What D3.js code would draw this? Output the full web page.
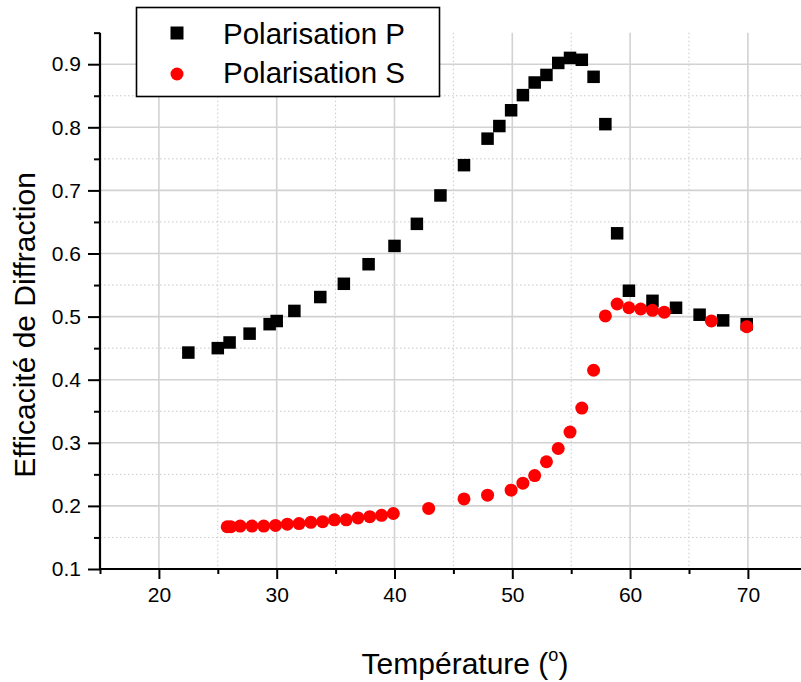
<!DOCTYPE html>
<html>
<head>
<meta charset="utf-8">
<script src="https://cdn.jsdelivr.net/npm/d3@7"></script>
<style>
  html, body { margin: 0; padding: 0; background: #fff; }
  svg { display: block; font-family: "Liberation Sans", Arial, sans-serif; }
</style>
</head>
<body>
<svg id="chart" width="801" height="682"></svg>
<script>
// ---- data ----
const seriesNames = ["Polarisation P", "Polarisation S"];
const pTemp = [22.5, 25, 26, 27.7, 29.4, 30, 31.5, 33.7, 35.7, 37.8, 40, 41.9, 43.9, 45.9, 47.9, 48.9, 49.9, 50.9, 51.9, 52.9, 53.9, 54.9, 55.9, 56.9, 57.9, 58.9, 59.9, 61.9, 63.9, 65.9, 67.9, 69.9];
const pEff  = [0.443, 0.450, 0.459, 0.473, 0.488, 0.493, 0.509, 0.531, 0.552, 0.583, 0.612, 0.647, 0.692, 0.740, 0.782, 0.802, 0.827, 0.851, 0.871, 0.883, 0.902, 0.910, 0.907, 0.880, 0.805, 0.632, 0.541, 0.525, 0.514, 0.503, 0.494, 0.488];
const sTemp = [25.8, 26.1, 26.9, 27.9, 28.9, 29.9, 30.9, 31.9, 32.9, 33.9, 34.9, 35.9, 36.9, 37.9, 38.9, 39.9, 42.9, 45.9, 47.9, 49.9, 50.9, 51.9, 52.9, 53.9, 54.9, 55.9, 56.9, 57.9, 58.9, 59.9, 60.9, 61.9, 62.9, 66.9, 69.9];
const sEff  = [0.167, 0.167, 0.168, 0.168, 0.168, 0.169, 0.171, 0.172, 0.174, 0.175, 0.178, 0.178, 0.181, 0.183, 0.185, 0.188, 0.196, 0.211, 0.217, 0.225, 0.236, 0.248, 0.270, 0.291, 0.317, 0.355, 0.415, 0.501, 0.520, 0.514, 0.512, 0.510, 0.507, 0.493, 0.484];
const xMajorTicks = [20, 30, 40, 50, 60, 70];
const xMinorTicks = [15, 25, 35, 45, 55, 65, 75];
const yMajorTicks = [0.1, 0.2, 0.3, 0.4, 0.5, 0.6, 0.7, 0.8, 0.9];
const yMinorTicks = [0.15, 0.25, 0.35, 0.45, 0.55, 0.65, 0.75, 0.85, 0.95];
const xTitle = "Température (";
const yTitle = "Efficacité de Diffraction";

// ---- layout ----
const W = 801, H = 682;
const plotLeft = 100, plotBottom = 569;
const x = d3.scaleLinear().domain([15, 75]).range([plotLeft, plotLeft + 60 * 11.78]);
const y = d3.scaleLinear().domain([0.1, 0.95]).range([plotBottom, plotBottom - 0.85 * 631]);
const plotTop = y(0.95);

const svg = d3.select("#chart");

// grid
const grid = svg.append("g");
grid.selectAll(".hminor").data(yMinorTicks.filter(v => v < 0.95)).join("line")
  .attr("x1", plotLeft).attr("x2", W).attr("y1", d => y(d)).attr("y2", d => y(d))
  .attr("stroke", "#c8c8c8").attr("stroke-width", 1).attr("stroke-dasharray", "1.5,2.5");
grid.selectAll(".vminor").data(xMinorTicks.filter(v => v > 15)).join("line")
  .attr("x1", d => x(d)).attr("x2", d => x(d)).attr("y1", plotTop).attr("y2", plotBottom)
  .attr("stroke", "#c8c8c8").attr("stroke-width", 1).attr("stroke-dasharray", "1.5,2.5");
grid.selectAll(".hmajor").data(yMajorTicks.filter(v => v > 0.1)).join("line")
  .attr("x1", plotLeft).attr("x2", W).attr("y1", d => y(d)).attr("y2", d => y(d))
  .attr("stroke", "#d2d2d2").attr("stroke-width", 1.6);
grid.selectAll(".vmajor").data(xMajorTicks).join("line")
  .attr("x1", d => x(d)).attr("x2", d => x(d)).attr("y1", plotTop).attr("y2", plotBottom)
  .attr("stroke", "#d2d2d2").attr("stroke-width", 1.6);

// axes
const xAxisMajor = d3.axisBottom(x).tickValues(xMajorTicks).tickSize(10).tickSizeOuter(0).tickPadding(8).tickFormat(d3.format("d"));
const xAxisMinor = d3.axisBottom(x).tickValues(xMinorTicks).tickSize(5).tickSizeOuter(0).tickFormat("");
const yAxisMajor = d3.axisLeft(y).tickValues(yMajorTicks).tickSize(12).tickSizeOuter(0).tickPadding(7).tickFormat(d3.format(".1f"));
const yAxisMinor = d3.axisLeft(y).tickValues(yMinorTicks).tickSize(6).tickSizeOuter(0).tickFormat("");

function styleAxis(g) {
  g.select(".domain").remove();
  g.selectAll(".tick line").attr("stroke", "#000").attr("stroke-width", 2);
  g.selectAll(".tick text").attr("fill", "#000").attr("font-size", 21)
    .attr("font-family", "'Liberation Sans', Arial, sans-serif");
}
svg.append("g").attr("transform", `translate(0,${plotBottom})`).call(xAxisMinor).call(styleAxis);
svg.append("g").attr("transform", `translate(0,${plotBottom})`).call(xAxisMajor).call(styleAxis);
svg.append("g").attr("transform", `translate(${plotLeft},0)`).call(yAxisMinor).call(styleAxis);
svg.append("g").attr("transform", `translate(${plotLeft},0)`).call(yAxisMajor).call(styleAxis);

// axis lines
svg.append("line").attr("x1", plotLeft).attr("x2", W).attr("y1", plotBottom).attr("y2", plotBottom)
  .attr("stroke", "#000").attr("stroke-width", 2.2);
svg.append("line").attr("x1", plotLeft).attr("x2", plotLeft).attr("y1", plotTop).attr("y2", plotBottom)
  .attr("stroke", "#000").attr("stroke-width", 2.2);

// data
const pData = pTemp.map((t, i) => ({ t, v: pEff[i] }));
const sData = sTemp.map((t, i) => ({ t, v: sEff[i] }));
const sq = 12.5;
svg.append("g").selectAll("rect").data(pData).join("rect")
  .attr("x", d => x(d.t) - sq / 2).attr("y", d => y(d.v) - sq / 2)
  .attr("width", sq).attr("height", sq).attr("fill", "#000");
svg.append("g").selectAll("circle").data(sData).join("circle")
  .attr("cx", d => x(d.t)).attr("cy", d => y(d.v)).attr("r", 6.5).attr("fill", "#ff0000");

// titles
const xt = svg.append("text").attr("x", 465).attr("y", 674).attr("text-anchor", "middle")
  .attr("font-size", 30).attr("fill", "#000");
xt.append("tspan").text(xTitle);
xt.append("tspan").attr("font-size", 18).attr("dy", -13).text("o");
xt.append("tspan").attr("dy", 13).text(")");

svg.append("text").attr("transform", `translate(35,${(172 + 478) / 2}) rotate(-90)`)
  .attr("text-anchor", "middle").attr("font-size", 30).attr("fill", "#000").text(yTitle);

// legend
const lg = svg.append("g");
lg.append("rect").attr("x", 136.5).attr("y", 7.5).attr("width", 303).attr("height", 89)
  .attr("fill", "#fff").attr("stroke", "#000").attr("stroke-width", 1.6);
lg.append("rect").attr("x", 177 - 6.5).attr("y", 33 - 6.5).attr("width", 13).attr("height", 13).attr("fill", "#000");
lg.append("circle").attr("cx", 177).attr("cy", 74).attr("r", 6.5).attr("fill", "#ff0000");
lg.selectAll("text.leg").data(seriesNames).join("text")
  .attr("x", 223).attr("y", (d, i) => 44 + i * 39).attr("font-size", 29.5).attr("fill", "#000").text(d => d);
</script>
</body>
</html>
